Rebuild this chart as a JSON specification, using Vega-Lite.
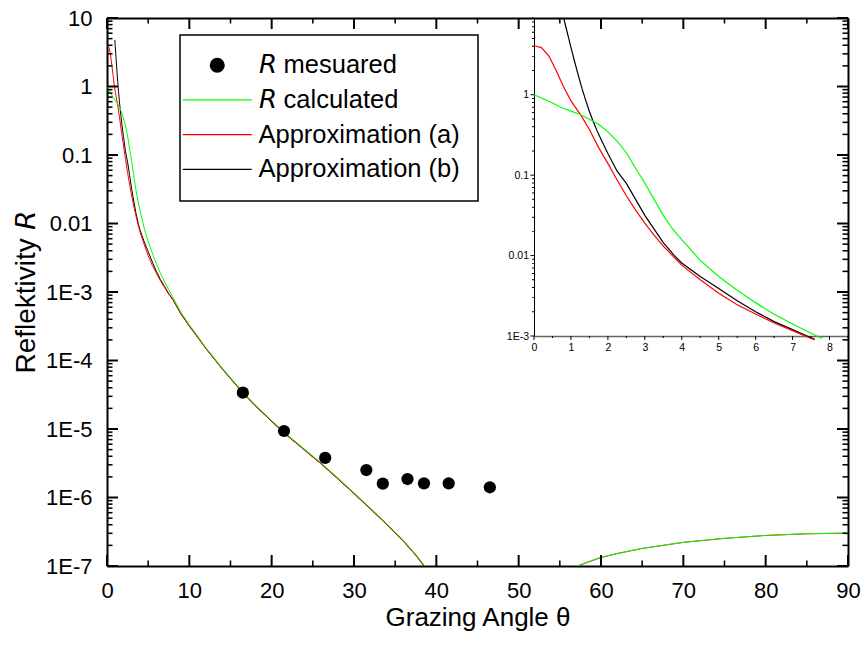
{
  "$schema": "https://vega.github.io/schema/vega-lite/v6.json",
  "width": 741,
  "height": 548,
  "autosize": {"type": "none"},
  "padding": {"left": 107, "top": 18, "right": 18, "bottom": 84},
  "background": "white",
  "config": {
    "view": {"stroke": null},
    "font": "Liberation Sans",
    "axis": {
      "grid": false,
      "ticks": false,
      "domainColor": "black",
      "labelColor": "black",
      "titleColor": "black",
      "labelFont": "Liberation Sans",
      "titleFont": "Liberation Sans",
      "titleFontWeight": "normal",
      "labelFontSize": 22,
      "titleFontSize": 26,
      "labelFlush": false,
      "labelOverlap": false
    },
    "legend": {"strokeColor": "black", "strokeWidth": 1.5}
  },
  "datasets": {
    "measured": [
      {"x": 16.5, "R": 3.39e-5, "series": "𝘙 mesuared"},
      {"x": 21.5, "R": 9.35e-6, "series": "𝘙 mesuared"},
      {"x": 26.5, "R": 3.78e-6, "series": "𝘙 mesuared"},
      {"x": 31.5, "R": 2.52e-6, "series": "𝘙 mesuared"},
      {"x": 33.5, "R": 1.59e-6, "series": "𝘙 mesuared"},
      {"x": 36.5, "R": 1.86e-6, "series": "𝘙 mesuared"},
      {"x": 38.5, "R": 1.61e-6, "series": "𝘙 mesuared"},
      {"x": 41.5, "R": 1.61e-6, "series": "𝘙 mesuared"},
      {"x": 46.5, "R": 1.41e-6, "series": "𝘙 mesuared"}
    ],
    "calc": [
      {"x": 0, "R": 1.0, "branch": 1},
      {"x": 0.25, "R": 0.89, "branch": 1},
      {"x": 0.5, "R": 0.79, "branch": 1},
      {"x": 0.75, "R": 0.69, "branch": 1},
      {"x": 1.0, "R": 0.625, "branch": 1},
      {"x": 1.25, "R": 0.567, "branch": 1},
      {"x": 1.5, "R": 0.497, "branch": 1},
      {"x": 1.75, "R": 0.43, "branch": 1},
      {"x": 2.0, "R": 0.345, "branch": 1},
      {"x": 2.25, "R": 0.265, "branch": 1},
      {"x": 2.5, "R": 0.19, "branch": 1},
      {"x": 2.75, "R": 0.122, "branch": 1},
      {"x": 3.0, "R": 0.08, "branch": 1},
      {"x": 3.25, "R": 0.05, "branch": 1},
      {"x": 3.5, "R": 0.0316, "branch": 1},
      {"x": 3.75, "R": 0.0214, "branch": 1},
      {"x": 4.0, "R": 0.0158, "branch": 1},
      {"x": 4.5, "R": 0.0087, "branch": 1},
      {"x": 5.0, "R": 0.0055, "branch": 1},
      {"x": 5.5, "R": 0.0037, "branch": 1},
      {"x": 6.0, "R": 0.0026, "branch": 1},
      {"x": 6.5, "R": 0.00186, "branch": 1},
      {"x": 7.0, "R": 0.00141, "branch": 1},
      {"x": 7.5, "R": 0.00108, "branch": 1},
      {"x": 7.8, "R": 0.00093, "branch": 1},
      {"x": 8.0, "R": 0.00083, "branch": 1},
      {"x": 9, "R": 0.0005, "branch": 1},
      {"x": 10, "R": 0.000331, "branch": 1},
      {"x": 11, "R": 0.000228, "branch": 1},
      {"x": 12, "R": 0.000155, "branch": 1},
      {"x": 14, "R": 7.76e-5, "branch": 1},
      {"x": 16.5, "R": 3.47e-5, "branch": 1},
      {"x": 18, "R": 2.26e-5, "branch": 1},
      {"x": 20, "R": 1.33e-5, "branch": 1},
      {"x": 22, "R": 8.04e-6, "branch": 1},
      {"x": 24, "R": 5.07e-6, "branch": 1},
      {"x": 26, "R": 3.2e-6, "branch": 1},
      {"x": 28, "R": 1.95e-6, "branch": 1},
      {"x": 30, "R": 1.175e-6, "branch": 1},
      {"x": 32, "R": 7.0e-7, "branch": 1},
      {"x": 34, "R": 4.12e-7, "branch": 1},
      {"x": 36, "R": 2.37e-7, "branch": 1},
      {"x": 37.5, "R": 1.48e-7, "branch": 1},
      {"x": 38.6, "R": 1.0e-7, "branch": 1},
      {"x": 39.2, "R": 7.9e-8, "branch": 1},
      {"x": 56.2, "R": 9.0e-8, "branch": 2},
      {"x": 57.2, "R": 1.01e-7, "branch": 2},
      {"x": 58, "R": 1.1e-7, "branch": 2},
      {"x": 60, "R": 1.34e-7, "branch": 2},
      {"x": 62, "R": 1.53e-7, "branch": 2},
      {"x": 65, "R": 1.81e-7, "branch": 2},
      {"x": 70, "R": 2.22e-7, "branch": 2},
      {"x": 75, "R": 2.54e-7, "branch": 2},
      {"x": 80, "R": 2.8e-7, "branch": 2},
      {"x": 85, "R": 2.96e-7, "branch": 2},
      {"x": 90, "R": 3.03e-7, "branch": 2}
    ],
    "approxA": [
      {"x": 0, "R": 4.07, "branch": 1},
      {"x": 0.2, "R": 3.85, "branch": 1},
      {"x": 0.4, "R": 3.05, "branch": 1},
      {"x": 0.6, "R": 2.0, "branch": 1},
      {"x": 0.8, "R": 1.26, "branch": 1},
      {"x": 1.0, "R": 0.84, "branch": 1},
      {"x": 1.25, "R": 0.575, "branch": 1},
      {"x": 1.5, "R": 0.37, "branch": 1},
      {"x": 1.75, "R": 0.22, "branch": 1},
      {"x": 2.0, "R": 0.14, "branch": 1},
      {"x": 2.25, "R": 0.087, "branch": 1},
      {"x": 2.5, "R": 0.0555, "branch": 1},
      {"x": 2.75, "R": 0.0368, "branch": 1},
      {"x": 3.0, "R": 0.0254, "branch": 1},
      {"x": 3.25, "R": 0.018, "branch": 1},
      {"x": 3.5, "R": 0.0131, "branch": 1},
      {"x": 4.0, "R": 0.0076, "branch": 1},
      {"x": 4.5, "R": 0.005, "branch": 1},
      {"x": 5.0, "R": 0.0034, "branch": 1},
      {"x": 5.5, "R": 0.00245, "branch": 1},
      {"x": 6.0, "R": 0.00188, "branch": 1},
      {"x": 6.5, "R": 0.00145, "branch": 1},
      {"x": 7.0, "R": 0.00116, "branch": 1},
      {"x": 7.5, "R": 0.00093, "branch": 1},
      {"x": 7.6, "R": 0.00089, "branch": 1},
      {"x": 8.0, "R": 0.00077, "branch": 1},
      {"x": 9, "R": 0.000475, "branch": 1},
      {"x": 10, "R": 0.000318, "branch": 1},
      {"x": 11, "R": 0.00022, "branch": 1},
      {"x": 12, "R": 0.00015, "branch": 1},
      {"x": 14, "R": 7.53e-5, "branch": 1},
      {"x": 16.5, "R": 3.37e-5, "branch": 1},
      {"x": 18, "R": 2.19e-5, "branch": 1},
      {"x": 20, "R": 1.29e-5, "branch": 1},
      {"x": 22, "R": 7.8e-6, "branch": 1},
      {"x": 24, "R": 4.92e-6, "branch": 1},
      {"x": 26, "R": 3.1e-6, "branch": 1},
      {"x": 28, "R": 1.89e-6, "branch": 1},
      {"x": 30, "R": 1.14e-6, "branch": 1},
      {"x": 32, "R": 6.8e-7, "branch": 1},
      {"x": 34, "R": 4.0e-7, "branch": 1},
      {"x": 36, "R": 2.3e-7, "branch": 1},
      {"x": 37.5, "R": 1.44e-7, "branch": 1},
      {"x": 38.6, "R": 9.7e-8, "branch": 1},
      {"x": 39.2, "R": 7.7e-8, "branch": 1},
      {"x": 56.2, "R": 8.9e-8, "branch": 2},
      {"x": 57.2, "R": 1.0e-7, "branch": 2},
      {"x": 58, "R": 1.09e-7, "branch": 2},
      {"x": 60, "R": 1.33e-7, "branch": 2},
      {"x": 62, "R": 1.52e-7, "branch": 2},
      {"x": 65, "R": 1.8e-7, "branch": 2},
      {"x": 70, "R": 2.21e-7, "branch": 2},
      {"x": 75, "R": 2.53e-7, "branch": 2},
      {"x": 80, "R": 2.79e-7, "branch": 2},
      {"x": 85, "R": 2.95e-7, "branch": 2},
      {"x": 90, "R": 3.02e-7, "branch": 2}
    ],
    "approxB": [
      {"x": 0.75, "R": 11.2},
      {"x": 0.8, "R": 9.1},
      {"x": 0.9, "R": 5.94},
      {"x": 0.95, "R": 4.8},
      {"x": 1.0, "R": 3.89},
      {"x": 1.1, "R": 2.57},
      {"x": 1.2, "R": 1.74},
      {"x": 1.3, "R": 1.19},
      {"x": 1.4, "R": 0.85},
      {"x": 1.5, "R": 0.62},
      {"x": 1.6, "R": 0.468},
      {"x": 1.7, "R": 0.363},
      {"x": 1.8, "R": 0.288},
      {"x": 2.0, "R": 0.186},
      {"x": 2.25, "R": 0.112},
      {"x": 2.5, "R": 0.079},
      {"x": 2.75, "R": 0.05},
      {"x": 3.0, "R": 0.0316},
      {"x": 3.5, "R": 0.0145},
      {"x": 3.8, "R": 0.01},
      {"x": 4.0, "R": 0.0081},
      {"x": 4.5, "R": 0.0055},
      {"x": 5.0, "R": 0.0039},
      {"x": 5.5, "R": 0.00275},
      {"x": 6.0, "R": 0.002},
      {"x": 6.5, "R": 0.00151},
      {"x": 7.0, "R": 0.0012},
      {"x": 7.5, "R": 0.00095},
      {"x": 7.6, "R": 0.00091},
      {"x": 8.0, "R": 0.00078},
      {"x": 9, "R": 0.000475},
      {"x": 10, "R": 0.000318},
      {"x": 11, "R": 0.00022},
      {"x": 12, "R": 0.00015},
      {"x": 14, "R": 7.53e-5},
      {"x": 16.5, "R": 3.37e-5},
      {"x": 18, "R": 2.19e-5},
      {"x": 20, "R": 1.29e-5},
      {"x": 22, "R": 7.8e-6},
      {"x": 24, "R": 4.92e-6},
      {"x": 26, "R": 3.1e-6},
      {"x": 28, "R": 1.89e-6},
      {"x": 30, "R": 1.14e-6},
      {"x": 32, "R": 6.8e-7},
      {"x": 34, "R": 4.0e-7},
      {"x": 36, "R": 2.3e-7},
      {"x": 37.5, "R": 1.44e-7},
      {"x": 38.6, "R": 9.7e-8},
      {"x": 39.2, "R": 7.7e-8}
    ],
    "xticks": [
      {"v": 0, "kind": "major"}, {"v": 5, "kind": "minor"}, {"v": 10, "kind": "major"}, {"v": 15, "kind": "minor"},
      {"v": 20, "kind": "major"}, {"v": 25, "kind": "minor"}, {"v": 30, "kind": "major"}, {"v": 35, "kind": "minor"},
      {"v": 40, "kind": "major"}, {"v": 45, "kind": "minor"}, {"v": 50, "kind": "major"}, {"v": 55, "kind": "minor"},
      {"v": 60, "kind": "major"}, {"v": 65, "kind": "minor"}, {"v": 70, "kind": "major"}, {"v": 75, "kind": "minor"},
      {"v": 80, "kind": "major"}, {"v": 85, "kind": "minor"}, {"v": 90, "kind": "major"}
    ],
    "yticks": [
      {"v": 1e-7, "kind": "major"}, {"v": 2e-7, "kind": "minor"}, {"v": 3e-7, "kind": "minor"}, {"v": 4e-7, "kind": "minor"}, {"v": 5e-7, "kind": "minor"}, {"v": 6e-7, "kind": "minor"}, {"v": 7e-7, "kind": "minor"}, {"v": 8e-7, "kind": "minor"}, {"v": 9e-7, "kind": "minor"},
      {"v": 1e-6, "kind": "major"}, {"v": 2e-6, "kind": "minor"}, {"v": 3e-6, "kind": "minor"}, {"v": 4e-6, "kind": "minor"}, {"v": 5e-6, "kind": "minor"}, {"v": 6e-6, "kind": "minor"}, {"v": 7e-6, "kind": "minor"}, {"v": 8e-6, "kind": "minor"}, {"v": 9e-6, "kind": "minor"},
      {"v": 1e-5, "kind": "major"}, {"v": 2e-5, "kind": "minor"}, {"v": 3e-5, "kind": "minor"}, {"v": 4e-5, "kind": "minor"}, {"v": 5e-5, "kind": "minor"}, {"v": 6e-5, "kind": "minor"}, {"v": 7e-5, "kind": "minor"}, {"v": 8e-5, "kind": "minor"}, {"v": 9e-5, "kind": "minor"},
      {"v": 1e-4, "kind": "major"}, {"v": 2e-4, "kind": "minor"}, {"v": 3e-4, "kind": "minor"}, {"v": 4e-4, "kind": "minor"}, {"v": 5e-4, "kind": "minor"}, {"v": 6e-4, "kind": "minor"}, {"v": 7e-4, "kind": "minor"}, {"v": 8e-4, "kind": "minor"}, {"v": 9e-4, "kind": "minor"},
      {"v": 0.001, "kind": "major"}, {"v": 0.002, "kind": "minor"}, {"v": 0.003, "kind": "minor"}, {"v": 0.004, "kind": "minor"}, {"v": 0.005, "kind": "minor"}, {"v": 0.006, "kind": "minor"}, {"v": 0.007, "kind": "minor"}, {"v": 0.008, "kind": "minor"}, {"v": 0.009, "kind": "minor"},
      {"v": 0.01, "kind": "major"}, {"v": 0.02, "kind": "minor"}, {"v": 0.03, "kind": "minor"}, {"v": 0.04, "kind": "minor"}, {"v": 0.05, "kind": "minor"}, {"v": 0.06, "kind": "minor"}, {"v": 0.07, "kind": "minor"}, {"v": 0.08, "kind": "minor"}, {"v": 0.09, "kind": "minor"},
      {"v": 0.1, "kind": "major"}, {"v": 0.2, "kind": "minor"}, {"v": 0.3, "kind": "minor"}, {"v": 0.4, "kind": "minor"}, {"v": 0.5, "kind": "minor"}, {"v": 0.6, "kind": "minor"}, {"v": 0.7, "kind": "minor"}, {"v": 0.8, "kind": "minor"}, {"v": 0.9, "kind": "minor"},
      {"v": 1, "kind": "major"}, {"v": 2, "kind": "minor"}, {"v": 3, "kind": "minor"}, {"v": 4, "kind": "minor"}, {"v": 5, "kind": "minor"}, {"v": 6, "kind": "minor"}, {"v": 7, "kind": "minor"}, {"v": 8, "kind": "minor"}, {"v": 9, "kind": "minor"},
      {"v": 10, "kind": "major"}
    ],
    "ixticks": [
      {"v": 0, "kind": "major"}, {"v": 0.5, "kind": "minor"}, {"v": 1, "kind": "major"}, {"v": 1.5, "kind": "minor"},
      {"v": 2, "kind": "major"}, {"v": 2.5, "kind": "minor"}, {"v": 3, "kind": "major"}, {"v": 3.5, "kind": "minor"},
      {"v": 4, "kind": "major"}, {"v": 4.5, "kind": "minor"}, {"v": 5, "kind": "major"}, {"v": 5.5, "kind": "minor"},
      {"v": 6, "kind": "major"}, {"v": 6.5, "kind": "minor"}, {"v": 7, "kind": "major"}, {"v": 7.5, "kind": "minor"},
      {"v": 8, "kind": "major"}, {"v": 8.5, "kind": "minor"}
    ],
    "iyticks": [
      {"v": 0.001, "kind": "major"}, {"v": 0.002, "kind": "minor"}, {"v": 0.003, "kind": "minor"}, {"v": 0.004, "kind": "minor"}, {"v": 0.005, "kind": "minor"}, {"v": 0.006, "kind": "minor"}, {"v": 0.007, "kind": "minor"}, {"v": 0.008, "kind": "minor"}, {"v": 0.009, "kind": "minor"},
      {"v": 0.01, "kind": "major"}, {"v": 0.02, "kind": "minor"}, {"v": 0.03, "kind": "minor"}, {"v": 0.04, "kind": "minor"}, {"v": 0.05, "kind": "minor"}, {"v": 0.06, "kind": "minor"}, {"v": 0.07, "kind": "minor"}, {"v": 0.08, "kind": "minor"}, {"v": 0.09, "kind": "minor"},
      {"v": 0.1, "kind": "major"}, {"v": 0.2, "kind": "minor"}, {"v": 0.3, "kind": "minor"}, {"v": 0.4, "kind": "minor"}, {"v": 0.5, "kind": "minor"}, {"v": 0.6, "kind": "minor"}, {"v": 0.7, "kind": "minor"}, {"v": 0.8, "kind": "minor"}, {"v": 0.9, "kind": "minor"},
      {"v": 1, "kind": "major"}, {"v": 2, "kind": "minor"}, {"v": 3, "kind": "minor"}, {"v": 4, "kind": "minor"}, {"v": 5, "kind": "minor"}, {"v": 6, "kind": "minor"}, {"v": 7, "kind": "minor"}, {"v": 8, "kind": "minor"}, {"v": 9, "kind": "minor"}
    ]
  },
  "resolve": {"scale": {"x": "independent", "y": "independent"}},
  "layer": [
    {
      "data": {"name": "approxB"},
      "transform": [{"filter": "datum.x >= 0.95"}],
      "mark": {"type": "line", "stroke": "black", "strokeWidth": 1, "clip": true},
      "encoding": {
        "x": {"field": "x", "type": "quantitative", "scale": {"domain": [0, 90], "nice": false, "zero": false}, "axis": null},
        "y": {"field": "R", "type": "quantitative", "scale": {"type": "log", "domain": [1e-7, 10], "nice": false}, "axis": null}
      }
    },
    {
      "data": {"name": "approxA"},
      "mark": {"type": "line", "stroke": "#ff0000", "strokeWidth": 1, "clip": true},
      "encoding": {
        "x": {
          "field": "x", "type": "quantitative",
          "scale": {"domain": [0, 90], "nice": false, "zero": false},
          "axis": {"orient": "top", "values": [0, 90], "labels": false, "domainWidth": 2, "title": null}
        },
        "y": {
          "field": "R", "type": "quantitative",
          "scale": {"type": "log", "domain": [1e-7, 10], "nice": false},
          "axis": {"orient": "right", "values": [1e-7, 10], "labels": false, "domainWidth": 2, "title": null}
        },
        "detail": {"field": "branch", "type": "nominal"}
      }
    },
    {
      "data": {"name": "calc"},
      "mark": {"type": "line", "stroke": "#00ff00", "strokeWidth": 1, "clip": true},
      "encoding": {
        "x": {"field": "x", "type": "quantitative", "scale": {"domain": [0, 90], "nice": false, "zero": false}, "axis": null},
        "y": {"field": "R", "type": "quantitative", "scale": {"type": "log", "domain": [1e-7, 10], "nice": false}, "axis": null},
        "detail": {"field": "branch", "type": "nominal"}
      }
    },
    {
      "data": {"name": "measured"},
      "mark": {"type": "point", "filled": true, "size": 150, "opacity": 1},
      "encoding": {
        "x": {
          "field": "x", "type": "quantitative",
          "scale": {"domain": [0, 90], "nice": false, "zero": false},
          "axis": {"orient": "bottom", "values": [0, 10, 20, 30, 40, 50, 60, 70, 80, 90], "domainWidth": 2, "labelPadding": 14, "title": "Grazing Angle θ", "titlePadding": 3}
        },
        "y": {
          "field": "R", "type": "quantitative",
          "scale": {"type": "log", "domain": [1e-7, 10], "nice": false},
          "axis": {
            "orient": "left", "values": [1e-7, 1e-6, 1e-5, 1e-4, 0.001, 0.01, 0.1, 1, 10], "domainWidth": 2, "labelPadding": 15,
            "labelExpr": "datum.value >= 9 ? '10' : datum.value >= 0.9 ? '1' : datum.value >= 0.09 ? '0.1' : datum.value >= 0.009 ? '0.01' : '1E' + round(log(datum.value) / LN10)",
            "title": "Reflektivity 𝘙", "titleFontSize": 28, "titlePadding": 5
          }
        },
        "color": {
          "field": "series", "type": "nominal",
          "scale": {"domain": ["𝘙 mesuared", "𝘙 calculated", "Approximation (a)", "Approximation (b)"], "range": ["#000000", "#00ff00", "#ff0000", "#000000"]},
          "legend": {
            "title": null, "orient": "none", "legendX": 73, "legendY": 17, "padding": 17.5,
            "labelFont": "Liberation Sans", "labelFontSize": 25.5, "labelColor": "black", "labelLimit": 0,
            "symbolSize": 225, "symbolStrokeWidth": 0, "symbolOffset": 7, "labelOffset": 28.5, "rowPadding": 7.7
          }
        },
        "shape": {
          "field": "series", "type": "nominal",
          "scale": {"domain": ["𝘙 mesuared", "𝘙 calculated", "Approximation (a)", "Approximation (b)"], "range": ["circle", "M-4.6,-0.08H4.6V0.08H-4.6Z", "M-4.6,-0.08H4.6V0.08H-4.6Z", "M-4.6,-0.08H4.6V0.08H-4.6Z"]},
          "legend": {
            "title": null, "orient": "none", "legendX": 73, "legendY": 17, "padding": 17.5,
            "labelFont": "Liberation Sans", "labelFontSize": 25.5, "labelColor": "black", "labelLimit": 0,
            "symbolSize": 225, "symbolStrokeWidth": 0, "symbolOffset": 7, "labelOffset": 28.5, "rowPadding": 7.7
          }
        }
      }
    },
    {
      "data": {"name": "xticks"},
      "transform": [{"filter": "datum.kind == 'major'"}],
      "mark": {"type": "point", "filled": true, "fill": "#000000", "fillOpacity": 1, "opacity": 1, "strokeWidth": 0, "size": 121, "shape": "M-0.18,0V-2H0.18V0Z"},
      "encoding": {
        "x": {"field": "v", "type": "quantitative", "scale": {"domain": [0, 90], "nice": false, "zero": false}, "axis": null},
        "y": {"datum": 1e-7, "type": "quantitative", "scale": {"type": "log", "domain": [1e-7, 10], "nice": false}, "axis": null}
      }
    },
    {
      "data": {"name": "xticks"},
      "transform": [{"filter": "datum.kind == 'minor'"}],
      "mark": {"type": "point", "filled": true, "fill": "#000000", "fillOpacity": 1, "opacity": 1, "strokeWidth": 0, "size": 121, "shape": "M-0.14,0V-1H0.14V0Z"},
      "encoding": {
        "x": {"field": "v", "type": "quantitative", "scale": {"domain": [0, 90], "nice": false, "zero": false}, "axis": null},
        "y": {"datum": 1e-7, "type": "quantitative", "scale": {"type": "log", "domain": [1e-7, 10], "nice": false}, "axis": null}
      }
    },
    {
      "data": {"name": "xticks"},
      "transform": [{"filter": "datum.kind == 'major'"}],
      "mark": {"type": "point", "filled": true, "fill": "#000000", "fillOpacity": 1, "opacity": 1, "strokeWidth": 0, "size": 121, "shape": "M-0.18,0V2H0.18V0Z"},
      "encoding": {
        "x": {"field": "v", "type": "quantitative", "scale": {"domain": [0, 90], "nice": false, "zero": false}, "axis": null},
        "y": {"datum": 10, "type": "quantitative", "scale": {"type": "log", "domain": [1e-7, 10], "nice": false}, "axis": null}
      }
    },
    {
      "data": {"name": "xticks"},
      "transform": [{"filter": "datum.kind == 'minor'"}],
      "mark": {"type": "point", "filled": true, "fill": "#000000", "fillOpacity": 1, "opacity": 1, "strokeWidth": 0, "size": 121, "shape": "M-0.14,0V1H0.14V0Z"},
      "encoding": {
        "x": {"field": "v", "type": "quantitative", "scale": {"domain": [0, 90], "nice": false, "zero": false}, "axis": null},
        "y": {"datum": 10, "type": "quantitative", "scale": {"type": "log", "domain": [1e-7, 10], "nice": false}, "axis": null}
      }
    },
    {
      "data": {"name": "yticks"},
      "transform": [{"filter": "datum.kind == 'major'"}],
      "mark": {"type": "point", "filled": true, "fill": "#000000", "fillOpacity": 1, "opacity": 1, "strokeWidth": 0, "size": 121, "shape": "M0,-0.18H2V0.18H0Z"},
      "encoding": {
        "x": {"datum": 0, "type": "quantitative", "scale": {"domain": [0, 90], "nice": false, "zero": false}, "axis": null},
        "y": {"field": "v", "type": "quantitative", "scale": {"type": "log", "domain": [1e-7, 10], "nice": false}, "axis": null}
      }
    },
    {
      "data": {"name": "yticks"},
      "transform": [{"filter": "datum.kind == 'minor'"}],
      "mark": {"type": "point", "filled": true, "fill": "#000000", "fillOpacity": 1, "opacity": 1, "strokeWidth": 0, "size": 121, "shape": "M0,-0.14H1V0.14H0Z"},
      "encoding": {
        "x": {"datum": 0, "type": "quantitative", "scale": {"domain": [0, 90], "nice": false, "zero": false}, "axis": null},
        "y": {"field": "v", "type": "quantitative", "scale": {"type": "log", "domain": [1e-7, 10], "nice": false}, "axis": null}
      }
    },
    {
      "data": {"name": "yticks"},
      "transform": [{"filter": "datum.kind == 'major'"}],
      "mark": {"type": "point", "filled": true, "fill": "#000000", "fillOpacity": 1, "opacity": 1, "strokeWidth": 0, "size": 121, "shape": "M0,-0.18H-2V0.18H0Z"},
      "encoding": {
        "x": {"datum": 90, "type": "quantitative", "scale": {"domain": [0, 90], "nice": false, "zero": false}, "axis": null},
        "y": {"field": "v", "type": "quantitative", "scale": {"type": "log", "domain": [1e-7, 10], "nice": false}, "axis": null}
      }
    },
    {
      "data": {"name": "yticks"},
      "transform": [{"filter": "datum.kind == 'minor'"}],
      "mark": {"type": "point", "filled": true, "fill": "#000000", "fillOpacity": 1, "opacity": 1, "strokeWidth": 0, "size": 121, "shape": "M0,-0.14H-1V0.14H0Z"},
      "encoding": {
        "x": {"datum": 90, "type": "quantitative", "scale": {"domain": [0, 90], "nice": false, "zero": false}, "axis": null},
        "y": {"field": "v", "type": "quantitative", "scale": {"type": "log", "domain": [1e-7, 10], "nice": false}, "axis": null}
      }
    },
    {
      "data": {"name": "approxB"},
      "transform": [{"filter": "datum.x <= 7.6"}],
      "mark": {"type": "line", "stroke": "black", "strokeWidth": 1.2, "clip": true},
      "encoding": {
        "x": {
          "field": "x", "type": "quantitative",
          "scale": {"domain": [0, 8.5], "range": [427, 741], "nice": false, "zero": false},
          "axis": {"orient": "bottom", "offset": -230, "values": [0, 1, 2, 3, 4, 5, 6, 7, 8], "domainColor": "#666666", "domainWidth": 1.5, "labelFontSize": 10.5, "labelPadding": 6, "title": null}
        },
        "y": {
          "field": "R", "type": "quantitative",
          "scale": {"type": "log", "domain": [0.001, 9], "range": [318, 0], "nice": false},
          "axis": {
            "orient": "left", "offset": -427, "values": [0.001, 0.01, 0.1, 1], "domainWidth": 1, "labelFontSize": 10.5, "labelPadding": 5.5,
            "labelExpr": "datum.value >= 0.9 ? '1' : datum.value >= 0.09 ? '0.1' : datum.value >= 0.009 ? '0.01' : '1E' + round(log(datum.value) / LN10)",
            "title": null
          }
        }
      }
    },
    {
      "data": {"name": "approxA"},
      "transform": [{"filter": "datum.x <= 7.6"}],
      "mark": {"type": "line", "stroke": "#ff0000", "strokeWidth": 1.2, "clip": true},
      "encoding": {
        "x": {"field": "x", "type": "quantitative", "scale": {"domain": [0, 8.5], "range": [427, 741], "nice": false, "zero": false}, "axis": null},
        "y": {"field": "R", "type": "quantitative", "scale": {"type": "log", "domain": [0.001, 9], "range": [318, 0], "nice": false}, "axis": null}
      }
    },
    {
      "data": {"name": "calc"},
      "transform": [{"filter": "datum.x <= 7.8"}],
      "mark": {"type": "line", "stroke": "#00ff00", "strokeWidth": 1.2, "clip": true},
      "encoding": {
        "x": {"field": "x", "type": "quantitative", "scale": {"domain": [0, 8.5], "range": [427, 741], "nice": false, "zero": false}, "axis": null},
        "y": {"field": "R", "type": "quantitative", "scale": {"type": "log", "domain": [0.001, 9], "range": [318, 0], "nice": false}, "axis": null}
      }
    },
    {
      "data": {"name": "ixticks"},
      "transform": [{"filter": "datum.kind == 'major'"}],
      "mark": {"type": "point", "filled": true, "fill": "#000000", "fillOpacity": 1, "opacity": 1, "strokeWidth": 0, "size": 121, "shape": "M-0.09,0V0.73H0.09V0Z"},
      "encoding": {
        "x": {"field": "v", "type": "quantitative", "scale": {"domain": [0, 8.5], "range": [427, 741], "nice": false, "zero": false}, "axis": null},
        "y": {"datum": 0.001, "type": "quantitative", "scale": {"type": "log", "domain": [0.001, 9], "range": [318, 0], "nice": false}, "axis": null}
      }
    },
    {
      "data": {"name": "ixticks"},
      "transform": [{"filter": "datum.kind == 'minor'"}],
      "mark": {"type": "point", "filled": true, "fill": "#000000", "fillOpacity": 1, "opacity": 1, "strokeWidth": 0, "size": 121, "shape": "M-0.09,0V0.36H0.09V0Z"},
      "encoding": {
        "x": {"field": "v", "type": "quantitative", "scale": {"domain": [0, 8.5], "range": [427, 741], "nice": false, "zero": false}, "axis": null},
        "y": {"datum": 0.001, "type": "quantitative", "scale": {"type": "log", "domain": [0.001, 9], "range": [318, 0], "nice": false}, "axis": null}
      }
    },
    {
      "data": {"name": "iyticks"},
      "transform": [{"filter": "datum.kind == 'major'"}],
      "mark": {"type": "point", "filled": true, "fill": "#000000", "fillOpacity": 1, "opacity": 1, "strokeWidth": 0, "size": 121, "shape": "M0,-0.09H-0.64V0.09H0Z"},
      "encoding": {
        "x": {"datum": 0, "type": "quantitative", "scale": {"domain": [0, 8.5], "range": [427, 741], "nice": false, "zero": false}, "axis": null},
        "y": {"field": "v", "type": "quantitative", "scale": {"type": "log", "domain": [0.001, 9], "range": [318, 0], "nice": false}, "axis": null}
      }
    },
    {
      "data": {"name": "iyticks"},
      "transform": [{"filter": "datum.kind == 'minor'"}],
      "mark": {"type": "point", "filled": true, "fill": "#000000", "fillOpacity": 1, "opacity": 1, "strokeWidth": 0, "size": 121, "shape": "M0,-0.09H-0.36V0.09H0Z"},
      "encoding": {
        "x": {"datum": 0, "type": "quantitative", "scale": {"domain": [0, 8.5], "range": [427, 741], "nice": false, "zero": false}, "axis": null},
        "y": {"field": "v", "type": "quantitative", "scale": {"type": "log", "domain": [0.001, 9], "range": [318, 0], "nice": false}, "axis": null}
      }
    }
  ]
}
